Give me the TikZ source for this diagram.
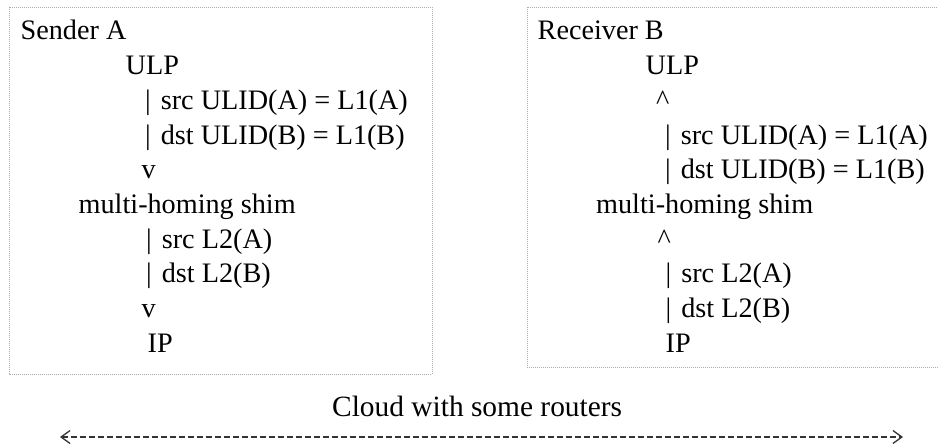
\documentclass[tikz,border=0pt]{standalone}
\usepackage{fontspec}
\setmainfont{Liberation Serif}
\usetikzlibrary{arrows.meta}
\newcommand{\vbar}{|\kern3pt}

\begin{document}
\begin{tikzpicture}[line cap=round,line join=round,x=1pt,y=-1pt,
    hostbox/.style={draw=gray!65,line width=0.8pt,line cap=butt,dash pattern=on 1pt off 1pt},
    layer/.style={anchor=base west,inner sep=0pt,font=\fontsize{28.2}{34}\selectfont},
    cloudarrow/.style={draw=black!80,line width=1.3pt,line cap=butt,dash pattern=on 6pt off 3pt,
        {Straight Barb[length=9pt,width=13pt,line width=1.3pt]}-{Straight Barb[length=9pt,width=13pt,line width=1.3pt]}}]
\useasboundingbox (0,0) rectangle (938,444);
\clip (0,0) rectangle (938,444);
% sender A
\draw[hostbox] (9,7) rectangle (432,374);
\foreach \i/\x/\t in {0/20.5/Sender A,1/125.5/ULP,2/145/\vbar{} src ULID(A) = L1(A),
    3/145/\vbar{} dst ULID(B) = L1(B),4/141.5/v,5/78.5/multi-homing shim,
    6/146/\vbar{} src L2(A),7/146/\vbar{} dst L2(B),8/141.5/v,9/147.5/IP}
\node[layer] (snd\i) at (\x,{40+34.7*\i}) {\t};
% receiver B
\draw[hostbox] (527,7) rectangle (960,367);
\foreach \i/\x/\t in {0/537.5/Receiver B,1/645.5/ULP,2/656/\textasciicircum,
    3/665/\vbar{} src ULID(A) = L1(A),4/665/\vbar{} dst ULID(B) = L1(B),5/596/multi-homing shim,
    6/657.5/\textasciicircum,7/665.5/\vbar{} src L2(A),8/665.5/\vbar{} dst L2(B),9/665.5/IP}
\node[layer] (rcv\i) at (\x,{40+34.7*\i}) {\t};
% cloud
\node[layer,font=\fontsize{29.4}{35}\selectfont] (cloud) at (332,416) {Cloud with some routers};
\coordinate (cloudL) at (60,437);
\coordinate (cloudR) at (903,437);
\draw[cloudarrow] (cloudL) -- (cloudR);
\end{tikzpicture}
\end{document}
